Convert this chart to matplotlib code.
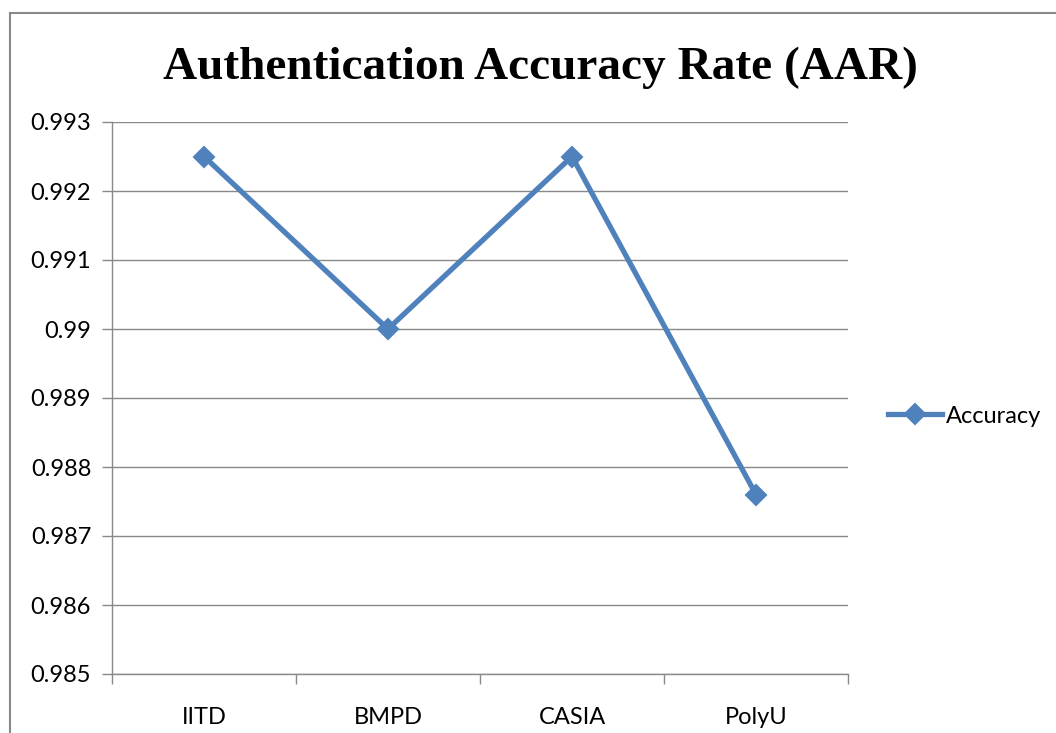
import matplotlib
matplotlib.use("Agg")
import matplotlib.pyplot as plt
from matplotlib.patches import Rectangle

categories = ["IITD", "BMPD", "CASIA", "PolyU"]
accuracy = [0.9925, 0.9900, 0.9925, 0.9876]
yticks = [0.985, 0.986, 0.987, 0.988, 0.989, 0.99, 0.991, 0.992, 0.993]

GREY = "#898989"
BLUE = "#4F81BD"
FONT = "Lato"

fig = plt.figure(figsize=(10.56, 7.33), dpi=100)
ax = fig.add_axes([112 / 1056, 1 - 674 / 733, 736 / 1056, 552 / 733])

x = list(range(len(categories)))
ax.plot(x, accuracy, color=BLUE, linewidth=3.8, marker="D", markersize=10,
        markeredgecolor=BLUE, markeredgewidth=1.5, label="Accuracy",
        solid_joinstyle="round")

ax.set_xlim(-0.5, len(categories) - 0.5)
ax.set_ylim(0.985, 0.993)
ax.set_yticks(yticks)
ax.set_yticklabels(["{:g}".format(v) for v in yticks])
ax.set_xticks(x)
ax.set_xticklabels(categories)
ax.set_xticks([i - 0.5 for i in range(len(categories) + 1)], minor=True)

for lab in ax.get_xticklabels() + ax.get_yticklabels():
    lab.set_fontfamily(FONT)
    lab.set_fontsize(17)

ax.tick_params(axis="x", which="major", length=0, pad=24)
ax.tick_params(axis="x", which="minor", length=7, color=GREY, width=1)
ax.tick_params(axis="y", which="major", length=7, color=GREY, width=1, pad=8)
ax.grid(axis="y", color=GREY, linewidth=1)
ax.set_axisbelow(True)
for side in ["top", "right"]:
    ax.spines[side].set_visible(False)
for side in ["left", "bottom"]:
    ax.spines[side].set_color(GREY)
    ax.spines[side].set_linewidth(1)

leg = ax.legend(loc="center left", bbox_to_anchor=(1.025, 0.467), frameon=False,
                prop={"family": FONT, "size": 17}, handlelength=2.3,
                handletextpad=0.15)

fig.text(540 / 1056, 1 - 68 / 733, "Authentication Accuracy Rate (AAR)",
         ha="center", va="center", fontsize=34, fontweight="bold",
         family="Liberation Serif")

# outer chart frame
fig.patches.append(Rectangle((10 / 1056, -0.1), 1.2, 1 - 13 / 733 + 0.1,
                             transform=fig.transFigure, fill=False,
                             edgecolor=GREY, linewidth=1.5))

fig.savefig("out.png", dpi=100)
